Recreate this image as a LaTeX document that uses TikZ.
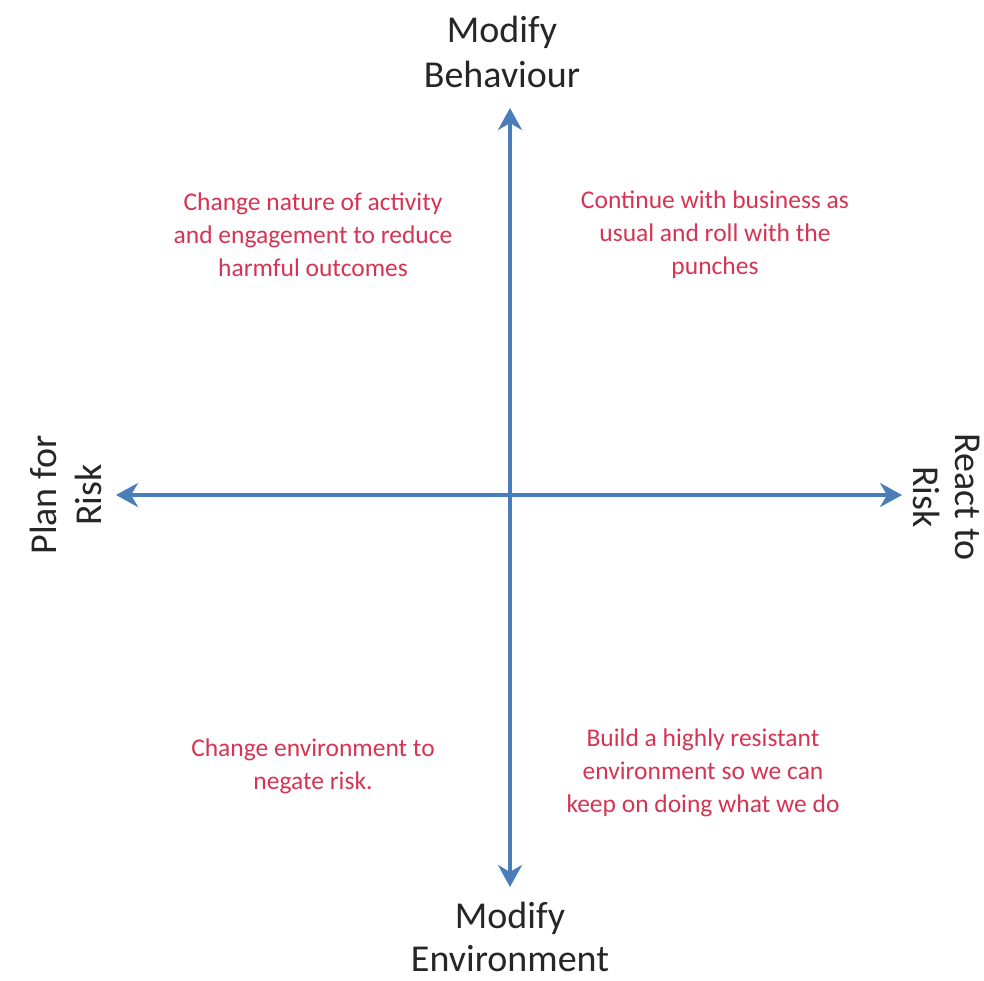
\documentclass[tikz,border=0pt]{standalone}
\usepackage{fontspec}
\setmainfont{Carlito}
\usetikzlibrary{arrows.meta}
\definecolor{axisblue}{RGB}{74,126,187}
\definecolor{quadred}{RGB}{214,52,84}
\tikzset{
  axis/.style={draw=axisblue, line width=4pt, {Stealth[length=22pt,width=24pt,inset=7pt]}-{Stealth[length=22pt,width=24pt,inset=7pt]}},
  axislabel/.style={align=center, font=\fontsize{38}{45}\selectfont, text=black!85, inner sep=0pt},
  quadtext/.style={align=center, font=\fontsize{25.5}{33}\selectfont, text=quadred, inner sep=0pt}
}
\begin{document}
\begin{tikzpicture}[x=1pt,y=-1pt]
\useasboundingbox (0,0) rectangle (984,980);
\clip (0,0) rectangle (984,980);
\fill[white] (0,0) rectangle (984,980);
\coordinate (top) at (510,108);
\coordinate (bot) at (510,887);
\coordinate (left) at (116,495);
\coordinate (right) at (902,495);
\draw[axis] (bot) -- (top);
\draw[axis] (left) -- (right);
\node[axislabel] (mb) at (502,52) {Modify\\Behaviour};
\node[axislabel, font=\fontsize{38}{43}\selectfont] (me) at (510,937) {Modify\\Environment};
\node[axislabel, rotate=90] (pr) at (66,495) {Plan for\\Risk};
\node[axislabel, rotate=-90, font=\fontsize{38}{42}\selectfont] (rr) at (947,497) {React to\\Risk};
\node[quadtext] (q1) at (313,235) {Change nature of activity\\and engagement to reduce\\harmful outcomes};
\node[quadtext] (q2) at (715,235) {Continue with business as\\usual and roll with the\\punches};
\node[quadtext] (q3) at (313,766) {Change environment to\\negate risk.};
\node[quadtext] (q4) at (703,773) {Build a highly resistant\\environment so we can\\keep on doing what we do};
\end{tikzpicture}
\end{document}
